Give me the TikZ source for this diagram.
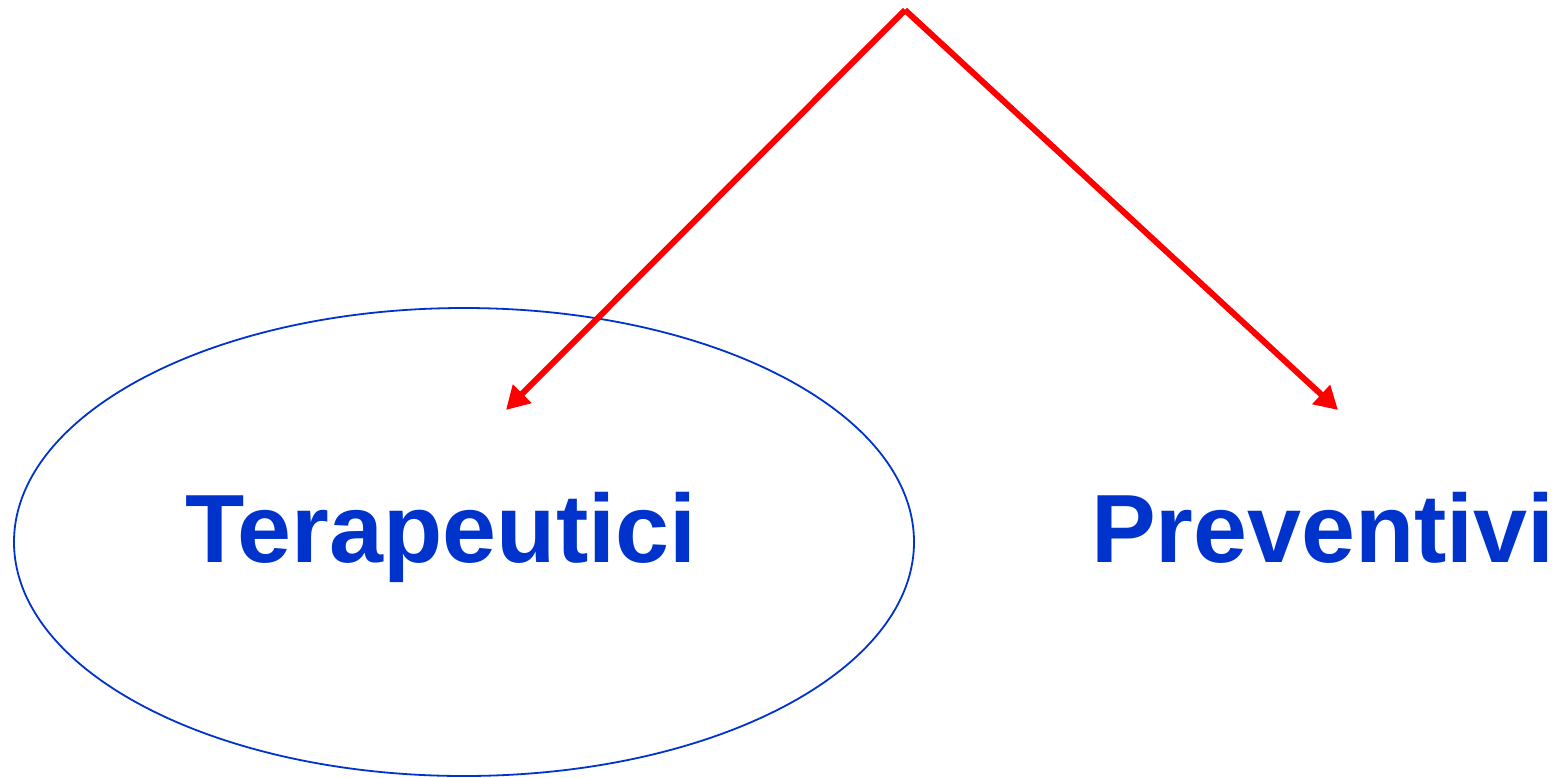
\documentclass[tikz,border=0pt]{standalone}
\usepackage{fontspec}
\setmainfont{Liberation Sans}
\usetikzlibrary{arrows.meta}
\definecolor{labelblue}{RGB}{0,51,204}
\definecolor{arrowred}{RGB}{255,0,0}
\tikzset{
  branch/.style={draw=arrowred, line width=6pt, -{Triangle[length=23pt,width=25pt]}},
  label/.style={text=labelblue, font=\fontsize{97}{110}\selectfont\bfseries, anchor=base, inner sep=0pt},
  ring/.style={draw=labelblue, line width=1.8pt}
}
\begin{document}
\begin{tikzpicture}[x=1pt,y=-1pt]
  \useasboundingbox (0,0) rectangle (1555,777);
  % outline around the first category
  \draw[ring] (464,542) ellipse [x radius=450, y radius=234];
  % category labels
  \node[label] (ther) at (441,562) {Terapeutici};
  \node[label] (prev) at (1323,562) {Preventivi};
  % branching arrows
  \coordinate (apex) at (905,10);
  \coordinate (tipL) at (506,410);
  \coordinate (tipR) at (1338,410);
  \draw[branch] (apex) -- (tipL);
  \draw[branch] (apex) -- (tipR);
\end{tikzpicture}
\end{document}
